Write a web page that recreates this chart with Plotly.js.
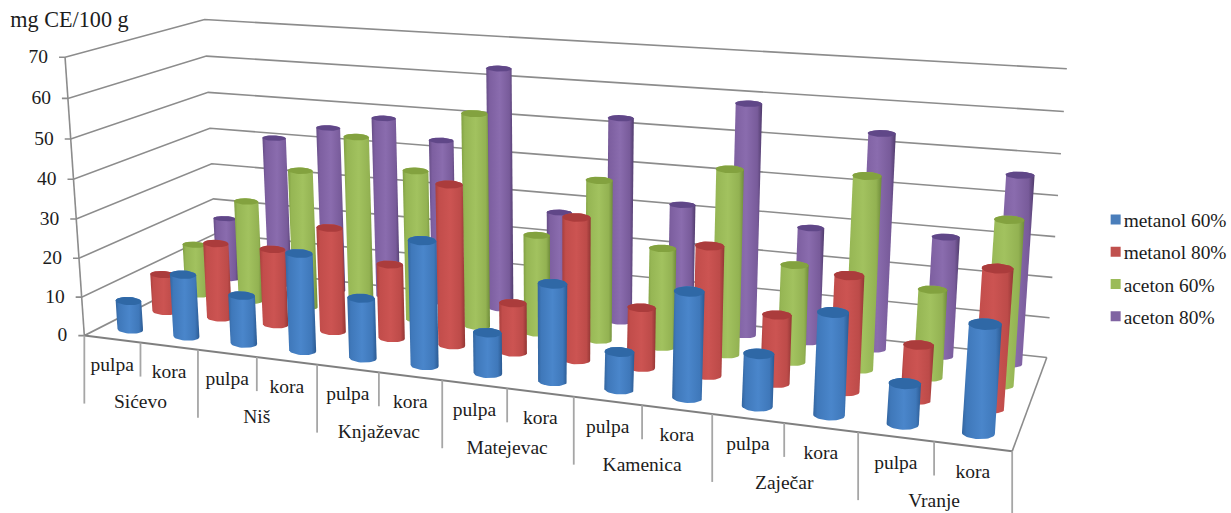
<!DOCTYPE html>
<html><head><meta charset="utf-8">
<script src="https://cdn.plot.ly/plotly-3.0.1.min.js"></script>
<style>html,body{margin:0;padding:0;background:#fff}
.legend .legendpoints .scatterpts{transform:translate(32px,0)}</style></head>
<body><div id="chart" style="width:1231px;height:513px"></div>
<script>
const cities = ["Sićevo","Niš","Knjaževac","Matejevac","Kamenica","Zaječar","Vranje"];
const parts = ["pulpa","kora"];
const seriesNames = ["metanol 60%","metanol 80%","aceton 60%","aceton 80%"];
const metanol60 = [7.5,16,12.3,24.5,15,30.7,10,23.5,9,25,12.3,23.6,9.3,24.5];
const metanol80 = [10,19.8,19.8,26.8,19,40.5,12.5,35.2,14.8,31.3,16.5,27.5,13,32.3];
const aceton60 = [13.8,27,36.5,46.5,39,54.7,25.3,40.5,25,45.8,24,46.8,21.3,39.3];
const aceton80 = [17,40.6,44.5,48.2,43.5,63.2,27.2,52.7,32,58.5,29,53.5,29.7,46];
const allSeries = [metanol60,metanol80,aceton60,aceton80];
const yTicks = [0,10,20,30,40,50,60,70];
const yTitle = "mg CE/100 g";

const fonts = "'Liberation Serif','Times New Roman',serif";
const grid = "#8c8c8c", txt = "#1c1c1c";
const swatch = ["#4a7ebb","#c0504d","#9bbb59","#8064a2"];
const caps = ["#2f68a6","#ab3c3c","#83a23f","#604788"];
const ramps = [
 [[0,"#33659f"],[0.12,"#3f78ba"],[0.5,"#4a86cb"],[0.85,"#3f78ba"],[1,"#2b5a92"]],
 [[0,"#a83f3d"],[0.12,"#c24d4b"],[0.5,"#cc5452"],[0.85,"#bd4b49"],[1,"#933634"]],
 [[0,"#81a043"],[0.12,"#96b654"],[0.5,"#a2c25f"],[0.85,"#93b252"],[1,"#6f8c3a"]],
 [[0,"#654c85"],[0.12,"#7d5fa0"],[0.5,"#8a6cae"],[0.85,"#785b9a"],[1,"#503b6c"]]
];

// Calibrate a projective camera for the box (u category, w series, v value) from its visible corners.
const nU = cities.length*parts.length, nW = allSeries.length, vMax = 70;
const anchors = [
 [0,0,0,84,335],[0,0,30,77,218],[0,0,70,65,57],
 [0,4,70,204,20],[0,4,30,212,164],
 [14,4,70,1067,69],[14,4,50,1061,154],[14,4,30,1055,236],[14,4,0,1047,357],[14,0,0,1012,451],
 [2,0,0,198,350],[4,0,0,317,365],[6,0,0,442,381],[8,0,0,574,397],[13,0,0,934,442]
];
function solveCamera(){
  let weight=anchors.map(()=>1),sol=null;
  for(let it=0;it<6;it++){
    const A=[],b=[];
    anchors.forEach(([u,w,v,x,y],k)=>{
      const X=u/nU,Y=w/nW,Z=v/vMax,px=x/1000,py=y/1000,g=weight[k];
      A.push([X,Y,Z,1,0,0,0,0,-px*X,-px*Y,-px*Z].map(e=>e*g));b.push(px*g);
      A.push([0,0,0,0,X,Y,Z,1,-py*X,-py*Y,-py*Z].map(e=>e*g));b.push(py*g);
    });
    const n=11,M=[];
    for(let i=0;i<n;i++){M.push(new Array(n+1).fill(0));
      for(let j=0;j<n;j++)for(let k=0;k<A.length;k++)M[i][j]+=A[k][i]*A[k][j];
      for(let k=0;k<A.length;k++)M[i][n]+=A[k][i]*b[k];}
    for(let i=0;i<n;i++){let p=i;for(let r=i+1;r<n;r++)if(Math.abs(M[r][i])>Math.abs(M[p][i]))p=r;
      [M[i],M[p]]=[M[p],M[i]];
      for(let r=0;r<n;r++){if(r===i)continue;const f=M[r][i]/M[i][i];for(let c=i;c<=n;c++)M[r][c]-=f*M[i][c];}}
    sol=M.map((r,i)=>r[n]/r[i]);
    weight=anchors.map(([u,w,v])=>1/(sol[8]*u/nU+sol[9]*w/nW+sol[10]*v/vMax+1));
  }
  return sol;
}
const P=solveCamera();
function pr(u,w,v){const X=u/nU,Y=w/nW,Z=v/vMax,d=P[8]*X+P[9]*Y+P[10]*Z+1;
  return [1000*(P[0]*X+P[1]*Y+P[2]*Z+P[3])/d,1000*(P[4]*X+P[5]*Y+P[6]*Z+P[7])/d];}
function hull(pts){pts=pts.slice().sort((a,b)=>a[0]-b[0]||a[1]-b[1]);
  const cr=(o,a,b)=>(a[0]-o[0])*(b[1]-o[1])-(a[1]-o[1])*(b[0]-o[0]);
  const lo=[],up=[];
  for(const p of pts){while(lo.length>1&&cr(lo[lo.length-2],lo[lo.length-1],p)<=0)lo.pop();lo.push(p);}
  for(const p of pts.slice().reverse()){while(up.length>1&&cr(up[up.length-2],up[up.length-1],p)<=0)up.pop();up.push(p);}
  return lo.slice(0,-1).concat(up);}
// Cylinder ends: ellipses sized from the local projected width of one category.
function ring(u,w,v){
  const c=pr(u,w,v),l=pr(u-0.5,w,v),r=pr(u+0.5,w,v),dx=r[0]-l[0],slope=0.35*(r[1]-l[1])/dx;
  const a=dx*(0.233-0.0012*u-0.004*w),b=dx*(0.078-0.008*w),o=[];
  for(let i=0;i<40;i++){const t=i/40*2*Math.PI,ax=a*Math.cos(t);
    o.push([c[0]+ax,c[1]+ax*slope+b*Math.sin(t)]);}
  return o;
}
const closeXY=p=>({x:p.map(q=>q[0]).concat(p[0][0]),y:p.map(q=>q[1]).concat(p[0][1])});

const traces=[];
function line(pts,width,color){traces.push({type:"scatter",mode:"lines",x:pts.map(p=>p[0]),y:pts.map(p=>p[1]),
  line:{color:color||grid,width:width||1.6},hoverinfo:"skip",showlegend:false});}
function label(xs,ys,ts,size,pos){traces.push({type:"scatter",mode:"text",x:xs,y:ys,text:ts,textposition:pos||"middle center",
  textfont:{family:fonts,size:size,color:txt},hoverinfo:"skip",showlegend:false,cliponaxis:false});}

yTicks.forEach(v=>{const a=pr(0,0,v),b=pr(0,nW,v),c=pr(nU,nW,v);
  line([[a[0]-6,a[1]],a,b,c]);});
line([pr(0,0,0),pr(0,0,vMax)]);
line([pr(nU,0,0),pr(nU,nW,0)]);

for(let s=nW-1;s>=0;s--){
  allSeries[s].forEach((val,i)=>{
    const u=i+0.5,w=s+0.5;
    const body=hull(ring(u,w,0).concat(ring(u,w,val)));
    traces.push(Object.assign({type:"scatter",mode:"lines",fill:"toself",line:{width:0},
      fillgradient:{type:"horizontal",colorscale:ramps[s]},hoverinfo:"skip",showlegend:false},closeXY(body)));
    traces.push(Object.assign({type:"scatter",mode:"lines",fill:"toself",line:{width:0},
      fillcolor:caps[s],hoverinfo:"skip",showlegend:false},closeXY(ring(u,w,val))));
  });
}

line([pr(0,0,0),pr(nU,0,0)],2,"#7f7f7f");
for(let i=0;i<=nU;i++){const a=pr(i,0,0),len=(i%2===0)?68:34;
  line([a,[a[0],a[1]+len]],1.8,"#a6a6a6");}

const lx=[],ly=[],lt=[];
for(let i=0;i<nU;i++){const a=pr(i+0.5,0,0);lx.push(a[0]);ly.push(a[1]+27);lt.push(parts[i%2]);}
label(lx,ly,lt,19.5);
const cx=[],cy=[];
cities.forEach((c,i)=>{const a=pr(2*i+1,0,0);cx.push(a[0]);cy.push(a[1]+61);});
label(cx,cy,cities,19.5);
label(yTicks.map(v=>pr(0,0,v)[0]-17),yTicks.map(v=>pr(0,0,v)[1]+1),yTicks.map(String),19.5,"middle left");
label([69.5],[21],[yTitle],22.2);

seriesNames.forEach((n,s)=>traces.push({type:"scatter",mode:"markers",x:[null],y:[null],name:n,legendgroup:n,
  marker:{symbol:"square",size:10,color:swatch[s]},hoverinfo:"skip"}));

Plotly.newPlot("chart",traces,{
  width:1231,height:513,margin:{l:0,r:0,t:0,b:0,autoexpand:false},paper_bgcolor:"#fff",plot_bgcolor:"#fff",
  xaxis:{range:[0,1231],visible:false,fixedrange:true},
  yaxis:{range:[513,0],visible:false,fixedrange:true},
  showlegend:true,
  legend:{x:0.8803,xanchor:"left",y:0.4776,yanchor:"middle",font:{family:fonts,size:19.4,color:txt},
    tracegroupgap:4,bgcolor:"rgba(0,0,0,0)",itemwidth:30}
},{displayModeBar:false,staticPlot:true});
</script></body></html>
